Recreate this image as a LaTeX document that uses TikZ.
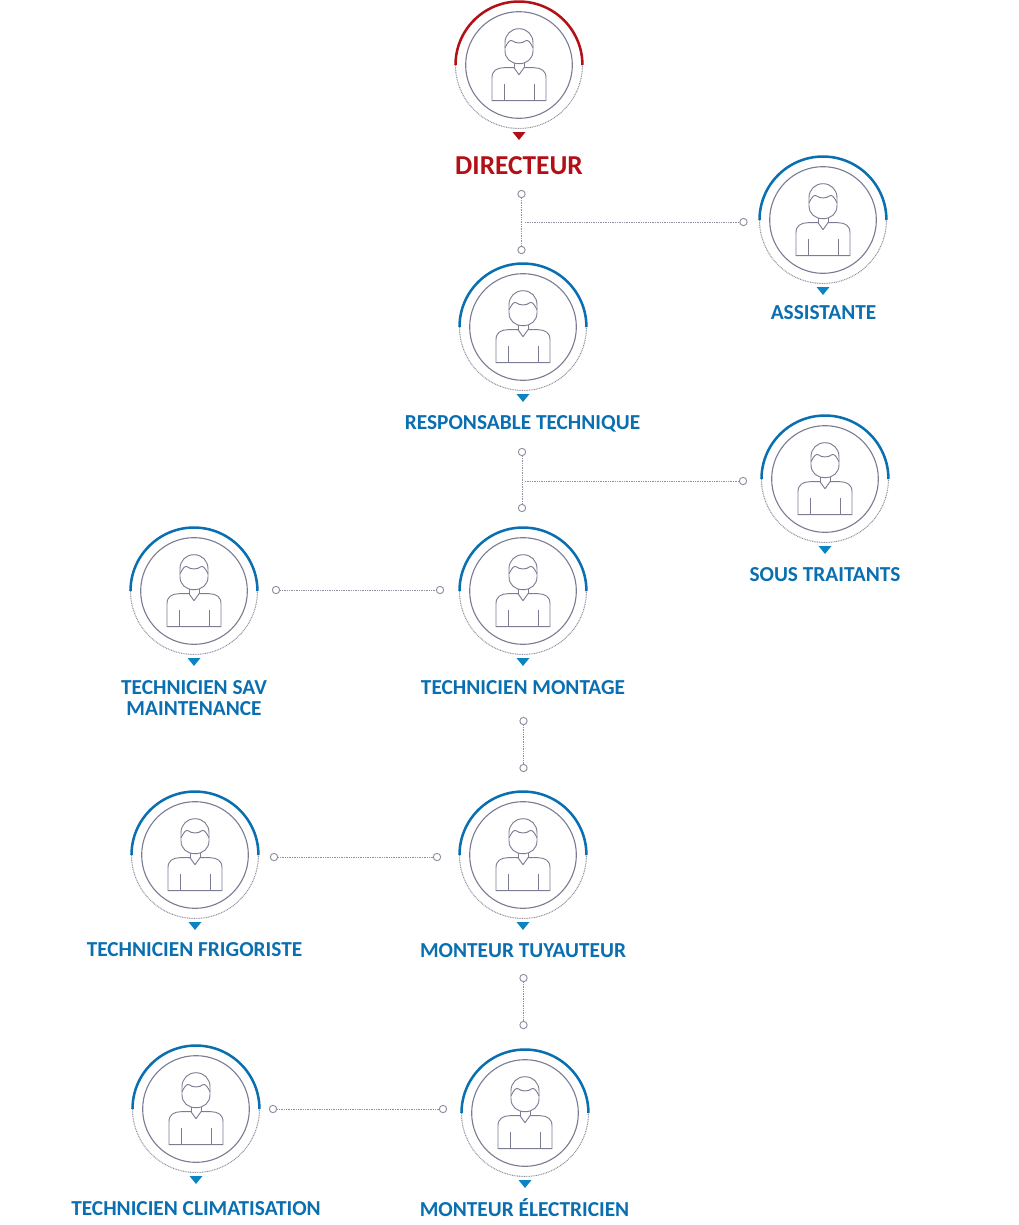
\documentclass[tikz,border=0pt]{standalone}
\usepackage{fontspec}
\setmainfont{Carlito}
\definecolor{chief}{HTML}{B30F17}
\definecolor{staffblue}{HTML}{0A6FB0}
\definecolor{tipblue}{HTML}{0B84C4}
\definecolor{linegray}{HTML}{7C7C94}
\definecolor{dotgray}{HTML}{8E8E9E}
\tikzset{
  x=0.75pt,y=-0.75pt,
  ringinner/.style={draw=linegray,line width=0.85pt,circle,minimum size=80pt,inner sep=0pt},
  figureline/.style={draw=linegray,line width=0.7pt,line join=round},
  dotarc/.style={draw=dotgray,line width=0.75pt,dash pattern=on 0.7pt off 0.6pt},
  toparc/.style={line width=1.9pt},
  dotend/.style={draw=dotgray,fill=white,line width=0.7pt,circle,minimum size=5.5pt,inner sep=0pt},
  linkline/.style={draw=dotgray,line width=0.75pt,dash pattern=on 0.7pt off 0.6pt},
  stafflabel/.style={font=\fontsize{16}{15.75}\selectfont\bfseries,text=staffblue,align=center,inner sep=0pt},
  chieflabel/.style={font=\fontsize{20.5}{20.5}\selectfont\bfseries,text=chief,inner sep=0pt},
}
% #1 name, #2 x, #3 y, #4 arc colour, #5 tip colour
\newcommand{\staffring}[5]{%
  \node[ringinner] (#1) at (#2,#3) {};
  \draw[dotarc] (#2-63.5,#3) arc[start angle=180,end angle=360,radius=47.6pt];
  \draw[toparc,draw=#4] (#2-63.5,#3) arc[start angle=180,end angle=0,radius=47.6pt];
  \begin{scope}[shift={(#2,#3+0.7)}]
    \draw[figureline] (-27,35) -- (-27,12) .. controls (-27,5) and (-22,2) .. (-15,2) -- (-5,2)
      -- (0,9) -- (5,2) -- (15,2) .. controls (22,2) and (27,5) .. (27,12) -- (27,35) -- cycle;
    \draw[figureline] (-15,18) -- (-15,35) (15,18) -- (15,35);
    \draw[figureline] (-5,-3) -- (-5,2) (5,-3) -- (5,2);
    \draw[figureline] (-14,-23) .. controls (-14,-31) and (-8,-37) .. (0,-37)
      .. controls (8,-37) and (14,-31) .. (14,-23) -- (14,-15)
      .. controls (14,-7) and (8,-2) .. (0,-2) .. controls (-8,-2) and (-14,-7) .. (-14,-15) -- cycle;
    \draw[figureline] (-14,-18) .. controls (-11,-24) and (-9,-26) .. (-7,-25)
      .. controls (-3,-22) and (3,-22) .. (7,-25) .. controls (9,-26) and (11,-24) .. (14,-18);
  \end{scope}
  \fill[#5] (#2-6.5,#3+67) -- (#2+6.5,#3+67) -- (#2,#3+75) -- cycle;
}
\begin{document}
\begin{tikzpicture}
\useasboundingbox (0,0) rectangle (1019,1225);
\staffring{dir}{519}{65}{chief}{chief}
\node[chieflabel] (dirl) at (519,165.7) {DIRECTEUR};
\staffring{asst}{823}{220}{staffblue}{tipblue}
\node[stafflabel] (asstl) at (823.5,313) {ASSISTANTE};
\staffring{resp}{523}{327}{staffblue}{tipblue}
\node[stafflabel] (respl) at (522.5,424) {RESPONSABLE TECHNIQUE};
\staffring{sous}{825}{479}{staffblue}{tipblue}
\node[stafflabel] (sousl) at (825,575) {SOUS TRAITANTS};
\staffring{sav}{194}{591}{staffblue}{tipblue}
\node[stafflabel] (savl) at (194,698.2) {TECHNICIEN SAV\\MAINTENANCE};
\staffring{mont}{523}{591}{staffblue}{tipblue}
\node[stafflabel] (montl) at (523,688) {TECHNICIEN MONTAGE};
\staffring{frig}{195}{855}{staffblue}{tipblue}
\node[stafflabel] (frigl) at (194.5,950) {TECHNICIEN FRIGORISTE};
\staffring{tuy}{523}{855}{staffblue}{tipblue}
\node[stafflabel] (tuyl) at (523,951) {MONTEUR TUYAUTEUR};
\staffring{clim}{196}{1109}{staffblue}{tipblue}
\node[stafflabel] (climl) at (196,1209) {TECHNICIEN CLIMATISATION};
\staffring{elec}{525}{1113}{staffblue}{tipblue}
\node[stafflabel] (elecl) at (524.5,1208) {MONTEUR ÉLECTRICIEN};
% connector end points
\node[dotend] (a1) at (521.5,194) {};
\node[dotend] (a2) at (521.5,250) {};
\node[dotend] (a3) at (743.5,222) {};
\coordinate (j1) at (525,222);
\node[dotend] (b1) at (522,452) {};
\node[dotend] (b2) at (522,508) {};
\node[dotend] (b3) at (743,481) {};
\coordinate (j2) at (525,481);
\node[dotend] (c1) at (276,590) {};
\node[dotend] (c2) at (440,590) {};
\node[dotend] (d1) at (523.5,721) {};
\node[dotend] (d2) at (523.5,768) {};
\node[dotend] (e1) at (274,857) {};
\node[dotend] (e2) at (437,857) {};
\node[dotend] (f1) at (523.5,978) {};
\node[dotend] (f2) at (523.5,1025) {};
\node[dotend] (g1) at (273,1109) {};
\node[dotend] (g2) at (443,1109) {};
\draw[linkline] (a1) -- (a2);
\draw[linkline] (j1) -- (a3);
\draw[linkline] (b1) -- (b2);
\draw[linkline] (j2) -- (b3);
\draw[linkline] (c1) -- (c2);
\draw[linkline] (d1) -- (d2);
\draw[linkline] (e1) -- (e2);
\draw[linkline] (f1) -- (f2);
\draw[linkline] (g1) -- (g2);
\end{tikzpicture}
\end{document}
